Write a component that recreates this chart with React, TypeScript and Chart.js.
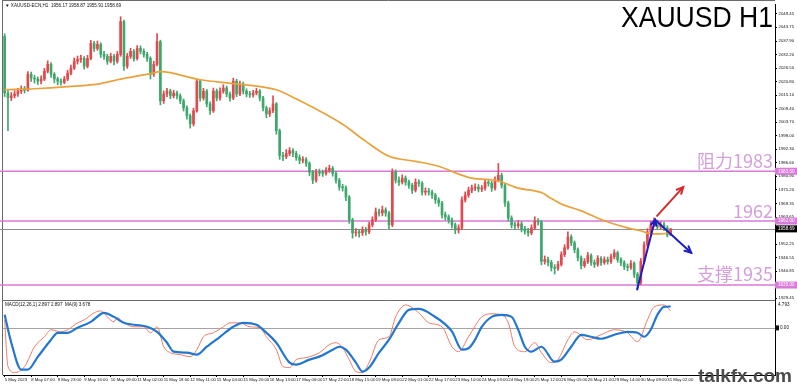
import React, { useEffect, useRef } from 'react';
import { Chart, registerables } from 'chart.js';

Chart.register(...registerables);

// ---------- data ----------
const timeLabels = [
  '5 May 2023', '8 May 07:00', '8 May 23:00', '9 May 16:00', '10 May 09:00', '11 May 02:00',
  '11 May 18:00', '12 May 11:00', '15 May 04:00', '15 May 20:00', '16 May 13:00', '17 May 06:00',
  '17 May 22:00', '18 May 15:00', '19 May 08:00', '22 May 01:00', '22 May 17:00', '23 May 10:00',
  '24 May 03:00', '24 May 19:00', '25 May 12:00', '26 May 05:00', '26 May 21:00', '29 May 14:00',
  '30 May 09:00', '31 May 02:00',
];

const opens = [
  2039.8, 2016.0, 2014.0, 2014.8, 2015.6, 2016.8, 2017.7, 2017.2, 2023.9, 2022.3,
  2021.9, 2021.0, 2021.9, 2025.2, 2028.1, 2023.9, 2021.9, 2021.0, 2020.5, 2021.9,
  2024.4, 2026.5, 2029.4, 2030.2, 2030.6, 2027.3, 2030.6, 2036.9, 2034.8, 2036.5,
  2032.3, 2031.5, 2029.4, 2031.5, 2029.4, 2032.3, 2046.1, 2027.3, 2031.5, 2033.6,
  2030.6, 2034.8, 2033.6, 2032.3, 2030.6, 2023.9, 2028.1, 2037.7, 2012.7, 2015.6,
  2016.8, 2014.8, 2016.0, 2014.8, 2012.7, 2009.7, 2006.4, 2003.0, 2008.5, 2021.0,
  2013.9, 2016.8, 2011.4, 2008.5, 2016.8, 2013.9, 2016.8, 2018.1, 2015.6, 2013.9,
  2021.0, 2015.6, 2019.8, 2016.8, 2015.6, 2015.2, 2016.0, 2016.8, 2013.9, 2009.7,
  2007.2, 2008.5, 2011.4, 2000.1, 1989.7, 1989.2, 1990.5, 1991.7, 1990.5, 1988.8,
  1987.6, 1987.9, 1986.3, 1982.6, 1979.2, 1982.6, 1982.2, 1982.1, 1983.4, 1984.2,
  1982.1, 1979.2, 1976.3, 1976.0, 1972.1, 1962.5, 1957.0, 1957.4, 1957.0, 1958.2,
  1957.4, 1960.4, 1962.5, 1965.8, 1965.4, 1966.7, 1965.4, 1960.4, 1982.6, 1979.2,
  1978.4, 1980.1, 1978.4, 1977.1, 1975.0, 1978.4, 1977.9, 1974.2, 1974.6, 1974.2,
  1972.9, 1970.9, 1969.6, 1964.6, 1963.7, 1962.5, 1960.4, 1958.2, 1959.1, 1970.9,
  1972.9, 1975.0, 1975.9, 1976.3, 1975.5, 1975.9, 1978.4, 1977.9, 1975.9, 1979.2,
  1981.3, 1977.1, 1969.6, 1963.3, 1960.4, 1960.0, 1960.8, 1958.7, 1957.8, 1957.0,
  1959.1, 1962.0, 1961.6, 1945.0, 1945.7, 1944.5, 1942.4, 1942.0, 1943.7, 1947.8,
  1950.7, 1955.3, 1952.8, 1949.9, 1946.5, 1943.2, 1944.9, 1947.4, 1944.5, 1943.7,
  1946.2, 1944.5, 1945.7, 1944.9, 1946.9, 1948.6, 1945.7, 1944.5, 1942.8, 1942.4,
  1944.1, 1939.5, 1936.0, 1945.0, 1951.9, 1957.4, 1960.4, 1961.6, 1959.5, 1960.4,
  1959.1, 1956.17,
];

const highs = [
  2041.0, 2017.0, 2016.2, 2017.0, 2018.0, 2019.0, 2018.8, 2025.0, 2024.8, 2023.5,
  2022.8, 2023.2, 2026.4, 2029.6, 2028.8, 2024.6, 2022.7, 2022.0, 2023.0, 2025.6,
  2027.8, 2030.8, 2031.6, 2032.0, 2031.4, 2031.9, 2038.2, 2037.8, 2037.9, 2037.2,
  2033.6, 2032.4, 2032.8, 2032.3, 2033.5, 2048.2, 2046.8, 2032.7, 2034.9, 2034.4,
  2036.0, 2035.9, 2034.6, 2033.2, 2031.3, 2029.4, 2041.1, 2038.3, 2016.9, 2018.0,
  2017.6, 2017.2, 2016.8, 2015.6, 2013.5, 2010.6, 2007.2, 2009.6, 2021.9, 2021.6,
  2018.0, 2017.5, 2012.3, 2018.1, 2017.7, 2018.2, 2019.5, 2019.0, 2016.4, 2022.3,
  2021.8, 2021.0, 2020.6, 2017.8, 2016.7, 2017.1, 2018.0, 2017.5, 2014.6, 2010.5,
  2009.8, 2014.8, 2012.0, 2000.8, 1991.0, 1992.2, 1993.0, 1992.6, 1991.4, 1989.9,
  1989.2, 1988.8, 1987.0, 1983.4, 1983.8, 1983.9, 1983.5, 1984.6, 1985.6, 1985.0,
  1982.9, 1980.0, 1977.5, 1976.8, 1972.8, 1963.2, 1958.8, 1958.5, 1959.6, 1959.3,
  1961.6, 1963.8, 1967.5, 1967.0, 1968.3, 1967.6, 1966.1, 1984.0, 1983.6, 1980.6,
  1981.5, 1981.0, 1979.3, 1977.9, 1979.8, 1979.4, 1978.6, 1976.0, 1975.8, 1975.1,
  1973.7, 1971.8, 1970.3, 1965.8, 1964.6, 1963.3, 1961.2, 1960.4, 1972.2, 1974.3,
  1976.3, 1977.2, 1977.7, 1977.4, 1977.0, 1979.7, 1979.5, 1978.8, 1980.6, 1986.3,
  1982.2, 1977.9, 1970.4, 1964.2, 1961.6, 1962.2, 1961.7, 1959.8, 1958.9, 1960.4,
  1963.8, 1963.0, 1962.3, 1947.3, 1946.8, 1945.4, 1943.6, 1945.0, 1949.0, 1952.0,
  1957.4, 1956.2, 1953.6, 1950.7, 1947.3, 1946.1, 1948.7, 1948.2, 1945.6, 1947.4,
  1947.0, 1946.9, 1946.8, 1948.1, 1949.9, 1949.3, 1946.6, 1945.3, 1943.9, 1945.3,
  1944.8, 1940.3, 1946.2, 1953.2, 1958.8, 1961.9, 1963.3, 1962.4, 1961.8, 1961.5,
  1960.0, 1958.87,
];

const lows = [
  2014.5, 2000.1, 2012.8, 2013.9, 2014.6, 2015.8, 2016.0, 2016.8, 2020.9, 2020.2,
  2019.6, 2019.8, 2021.2, 2024.5, 2022.6, 2020.3, 2019.4, 2019.3, 2019.9, 2021.2,
  2023.6, 2025.9, 2028.2, 2028.9, 2026.1, 2026.6, 2030.0, 2033.5, 2034.0, 2031.0,
  2030.2, 2028.1, 2028.7, 2027.9, 2028.6, 2031.5, 2025.5, 2026.4, 2030.6, 2029.4,
  2029.9, 2032.5, 2031.1, 2029.3, 2021.9, 2023.0, 2027.4, 2011.0, 2011.6, 2014.5,
  2013.6, 2013.9, 2013.5, 2011.5, 2008.4, 2005.0, 2001.2, 2002.1, 2007.9, 2012.6,
  2013.0, 2010.2, 2007.0, 2007.8, 2012.7, 2013.0, 2015.9, 2014.4, 2012.6, 2013.2,
  2014.5, 2014.9, 2015.6, 2014.4, 2014.1, 2014.3, 2015.2, 2012.7, 2008.4, 2005.6,
  2006.1, 2007.7, 1998.6, 1988.0, 1987.5, 1988.3, 1989.5, 1989.2, 1987.6, 1986.2,
  1986.5, 1985.0, 1981.2, 1977.8, 1978.4, 1981.0, 1980.8, 1981.3, 1982.5, 1980.9,
  1978.0, 1975.0, 1974.6, 1970.6, 1961.0, 1954.8, 1955.6, 1955.2, 1955.9, 1956.0,
  1956.7, 1959.5, 1961.8, 1964.0, 1964.2, 1964.0, 1958.8, 1959.6, 1978.0, 1977.0,
  1977.6, 1977.1, 1975.8, 1973.6, 1974.2, 1976.6, 1972.9, 1973.0, 1972.9, 1971.5,
  1969.4, 1968.2, 1963.2, 1962.4, 1961.1, 1959.0, 1956.6, 1956.9, 1958.5, 1970.0,
  1972.0, 1974.0, 1974.8, 1974.3, 1974.4, 1975.0, 1976.7, 1974.5, 1975.0, 1978.5,
  1975.9, 1968.2, 1962.0, 1959.1, 1958.7, 1959.0, 1957.4, 1956.5, 1955.6, 1956.2,
  1958.4, 1960.3, 1943.5, 1943.8, 1943.1, 1940.9, 1939.6, 1941.2, 1943.0, 1947.0,
  1950.0, 1951.6, 1948.6, 1945.2, 1941.8, 1942.4, 1944.1, 1943.3, 1942.4, 1942.9,
  1943.3, 1943.7, 1943.8, 1944.1, 1946.0, 1944.6, 1943.2, 1941.5, 1941.0, 1941.6,
  1938.2, 1933.2, 1935.2, 1944.3, 1951.0, 1956.5, 1959.5, 1958.3, 1958.6, 1957.9,
  1955.3, 1955.91,
];

const closes = [
  2016.0, 2014.0, 2014.8, 2015.6, 2016.8, 2017.7, 2017.2, 2023.9, 2022.3, 2021.9,
  2021.0, 2021.9, 2025.2, 2028.1, 2023.9, 2021.9, 2021.0, 2020.5, 2021.9, 2024.4,
  2026.5, 2029.4, 2030.2, 2030.6, 2027.3, 2030.6, 2036.9, 2034.8, 2036.5, 2032.3,
  2031.5, 2029.4, 2031.5, 2029.4, 2032.3, 2046.1, 2027.3, 2031.5, 2033.6, 2030.6,
  2034.8, 2033.6, 2032.3, 2030.6, 2023.9, 2028.1, 2037.7, 2012.7, 2015.6, 2016.8,
  2014.8, 2016.0, 2014.8, 2012.7, 2009.7, 2006.4, 2003.0, 2008.5, 2021.0, 2013.9,
  2016.8, 2011.4, 2008.5, 2016.8, 2013.9, 2016.8, 2018.1, 2015.6, 2013.9, 2021.0,
  2015.6, 2019.8, 2016.8, 2015.6, 2015.2, 2016.0, 2016.8, 2013.9, 2009.7, 2007.2,
  2008.5, 2011.4, 2000.1, 1989.7, 1989.2, 1990.5, 1991.7, 1990.5, 1988.8, 1987.6,
  1987.9, 1986.3, 1982.6, 1979.2, 1982.6, 1982.2, 1982.1, 1983.4, 1984.2, 1982.1,
  1979.2, 1976.3, 1976.0, 1972.1, 1962.5, 1957.0, 1957.4, 1957.0, 1958.2, 1957.4,
  1960.4, 1962.5, 1965.8, 1965.4, 1966.7, 1965.4, 1960.4, 1982.6, 1979.2, 1978.4,
  1980.1, 1978.4, 1977.1, 1975.0, 1978.4, 1977.9, 1974.2, 1974.6, 1974.2, 1972.9,
  1970.9, 1969.6, 1964.6, 1963.7, 1962.5, 1960.4, 1958.2, 1959.1, 1970.9, 1972.9,
  1975.0, 1975.9, 1976.3, 1975.5, 1975.9, 1978.4, 1977.9, 1975.9, 1979.2, 1981.3,
  1977.1, 1969.6, 1963.3, 1960.4, 1960.0, 1960.8, 1958.7, 1957.8, 1957.0, 1959.1,
  1962.0, 1961.6, 1945.0, 1945.7, 1944.5, 1942.4, 1942.0, 1943.7, 1947.8, 1950.7,
  1955.3, 1952.8, 1949.9, 1946.5, 1943.2, 1944.9, 1947.4, 1944.5, 1943.7, 1946.2,
  1944.5, 1945.7, 1944.9, 1946.9, 1948.6, 1945.7, 1944.5, 1942.8, 1942.4, 1944.1,
  1939.5, 1936.0, 1945.0, 1951.9, 1957.4, 1960.4, 1961.6, 1959.5, 1960.4, 1959.1,
  1956.17, 1958.69,
];

// moving average read at key bars
const maIndex = [0, 9, 19, 29, 34, 39, 44, 47, 59, 69, 79, 82, 89, 102, 109, 116, 124, 131, 137, 141, 149, 155, 162, 165, 168, 174, 181, 188, 192, 195, 198, 201];
const maValue = [2017.4, 2017.8, 2018.7, 2020.0, 2021.6, 2022.9, 2024.2, 2025.0, 2021.6, 2020.0, 2018.3, 2017.4, 2012.8, 2002.8, 1995.6, 1989.3, 1987.2, 1985.1, 1981.8, 1980.1, 1978.9, 1975.9, 1974.0, 1971.5, 1969.2, 1966.3, 1962.1, 1959.1, 1957.9, 1956.6, 1956.6, 1957.0];

// MACD main (thin red) read at key bars
const macdIndex = [0, 1, 3, 6, 9, 12, 14, 17, 19, 22, 24, 27, 29, 31, 33, 34, 36, 39, 42, 44, 46, 48, 50, 53, 56, 58, 60, 63, 66, 68, 71, 74, 77, 79, 82, 84, 86, 88, 91, 95, 98, 100, 102, 104, 106, 108, 110, 113, 116, 118, 121, 125, 128, 132, 135, 137, 140, 144, 147, 150, 152, 154, 157, 160, 162, 165, 167, 170, 172, 176, 180, 184, 188, 191, 194, 196, 199, 201];
const macdValue = [1.38, -6.64, -7.66, -6.64, -3.23, -1.52, -0.32, -0.67, -0.32, 0.87, 1.38, 2.58, 2.92, 1.89, 1.04, 1.72, 0.87, 0.19, 0.19, -0.84, 0.19, -3.23, -4.25, -4.59, -4.93, -3.74, -1.52, -0.84, 0.19, 0.87, 0.87, 0.19, 0.02, -1.52, -3.74, -6.64, -6.81, -5.44, -5.10, -4.25, -2.88, -2.54, -3.40, -5.44, -7.49, -7.66, -5.96, -2.03, -1.52, 1.89, 3.94, 2.58, 0.87, 0.19, -3.23, -4.08, -1.52, 1.89, 2.41, 2.24, 0.87, -3.23, -4.08, -2.54, -4.25, -5.96, -5.44, -2.03, -0.67, -2.03, -1.18, -0.32, -0.84, -2.37, 1.38, 3.60, 3.94, 2.897];

// MACD signal MA(9) (thick blue) read at key bars
const signalIndex = [0, 2, 5, 7, 10, 14, 16, 19, 22, 26, 30, 33, 36, 43, 46, 49, 51, 55, 58, 61, 65, 69, 72, 76, 79, 82, 86, 88, 92, 95, 99, 101, 103, 106, 108, 110, 113, 116, 119, 122, 125, 129, 135, 138, 140, 142, 144, 147, 150, 153, 155, 157, 159, 162, 166, 168, 171, 174, 177, 180, 184, 188, 191, 193, 195, 197, 199, 201];
const signalValue = [2.24, -2.54, -7.15, -7.15, -4.97, -2.03, -0.84, -0.84, 0.02, 1.04, 2.58, 1.89, 0.87, 0.19, -0.67, -2.54, -4.08, -4.25, -4.59, -3.23, -1.52, 0.19, 0.87, 0.53, -0.84, -2.54, -5.96, -6.30, -5.44, -4.93, -3.74, -3.23, -3.74, -5.96, -7.49, -6.81, -4.25, -2.03, 0.87, 3.09, 3.26, 2.24, -0.6, -3.74, -3.5, -2.0, 0.19, 1.89, 2.24, 1.89, -0.32, -3.23, -4.08, -3.23, -5.79, -5.44, -3.23, -1.18, -1.52, -1.86, -1.18, -0.67, -0.84, -1.52, -0.32, 2.24, 3.60, 3.678];

const priceTicks = [2049.45, 2043.75, 2037.90, 2032.20, 2026.50, 2020.80, 2015.10, 2009.40, 2003.70, 1998.00, 1992.30, 1986.60, 1980.90, 1975.20, 1969.35, 1963.65, 1957.95, 1952.25, 1946.55, 1940.85, 1935.15, 1929.45];

const resistanceLevel = 1983;
const pivotLevel = 1962;
const supportLevel = 1935;
const lastPrice = 1958.69;
const macdTopValue = 4.793;

// annotation arrows in (bar index, price)
const redArrow = [[196.9, 1964.2], [204.8, 1976.3]];
const blueUpArrow = [[190.9, 1933.1], [196.3, 1962.5]];
const blueDownArrow = [[196.3, 1962.5], [207.2, 1948.6]];

const headerText = '\u25BC XAUUSD-ECN,H1  1956.17 1958.87 1955.91 1958.69';
const macdText = 'MACD(12,26,1) 2.897 2.897  MA(9) 3.678';
const titleText = 'XAUUSD H1';
const watermark = 'talkfx.com';

// ---------- layout / style ----------
const SLOTS = 233;
const LABEL_STEP = 8;
const UP = '#e4474c';
const DOWN = '#3ea86c';
const LEVEL = 'rgb(216,122,216)';
const LEVEL_TEXT = 'rgb(212,160,218)';
const SANS = '"Liberation Sans", Arial, sans-serif';

function sparse(idx: number[], vals: number[]) {
  const a: (number | null)[] = new Array(closes.length).fill(null);
  idx.forEach((k, j) => { a[k] = vals[j]; });
  return a;
}

function drawArrow(ctx: CanvasRenderingContext2D, x1: number, y1: number, x2: number, y2: number, color: string, w: number, head: number) {
  ctx.strokeStyle = color;
  ctx.lineWidth = w;
  ctx.lineCap = 'round';
  ctx.beginPath();
  ctx.moveTo(x1, y1);
  ctx.lineTo(x2, y2);
  ctx.stroke();
  const a = Math.atan2(y2 - y1, x2 - x1);
  ctx.beginPath();
  ctx.moveTo(x2 - head * Math.cos(a - 0.45), y2 - head * Math.sin(a - 0.45));
  ctx.lineTo(x2, y2);
  ctx.lineTo(x2 - head * Math.cos(a + 0.45), y2 - head * Math.sin(a + 0.45));
  ctx.stroke();
}

const overlay = {
  id: 'overlay',
  beforeDatasetsDraw(chart: any) {
    const { ctx } = chart;
    const xs = chart.scales.x, ys = chart.scales.y, y2 = chart.scales.y2;
    ctx.save();
    ctx.strokeStyle = '#6a6a6a';
    ctx.lineWidth = 1;
    ctx.beginPath();
    ctx.moveTo(2.5, 0); ctx.lineTo(2.5, xs.top);
    ctx.moveTo(2, 0.5); ctx.lineTo(xs.right, 0.5);
    const sep = Math.round(y2.top) + 0.5;
    ctx.moveTo(2, sep); ctx.lineTo(xs.right, sep);
    ctx.stroke();

    const z = Math.round(y2.getPixelForValue(0)) + 0.5;
    ctx.strokeStyle = '#a4a4a4';
    ctx.beginPath(); ctx.moveTo(xs.left, z); ctx.lineTo(xs.right, z); ctx.stroke();

    const lp = Math.round(ys.getPixelForValue(lastPrice)) + 0.5;
    ctx.strokeStyle = '#8c8c8c';
    ctx.beginPath(); ctx.moveTo(0, lp); ctx.lineTo(xs.right, lp); ctx.stroke();

    ctx.strokeStyle = LEVEL;
    ctx.lineWidth = 1.6;
    for (const v of [resistanceLevel, pivotLevel, supportLevel]) {
      const yy = ys.getPixelForValue(v);
      ctx.beginPath(); ctx.moveTo(0, yy); ctx.lineTo(xs.right, yy); ctx.stroke();
    }
    ctx.restore();
  },
  afterDatasetsDraw(chart: any) {
    const { ctx } = chart;
    const xs = chart.scales.x, ys = chart.scales.y;
    const P = (p: number[]) => [xs.getPixelForValue(p[0]), ys.getPixelForValue(p[1])];
    ctx.save();
    let [a, b] = [P(redArrow[0]), P(redArrow[1])];
    drawArrow(ctx, a[0], a[1], b[0], b[1], '#d22b2b', 2, 7);
    [a, b] = [P(blueUpArrow[0]), P(blueUpArrow[1])];
    drawArrow(ctx, a[0], a[1], b[0], b[1], '#1c1cc8', 2, 6);
    [a, b] = [P(blueDownArrow[0]), P(blueDownArrow[1])];
    drawArrow(ctx, a[0], a[1], b[0], b[1], '#1c1cc8', 2, 7);
    ctx.restore();
  },
  afterDraw(chart: any) {
    const { ctx } = chart;
    const xs = chart.scales.x, ys = chart.scales.y, y2 = chart.scales.y2;
    const R = xs.right;
    ctx.save();
    // title
    ctx.fillStyle = '#000';
    ctx.font = `30px ${SANS}`;
    ctx.textAlign = 'right';
    ctx.textBaseline = 'alphabetic';
    ctx.fillText(titleText, R - 2, 27, 152);

    // level captions
    ctx.fillStyle = LEVEL_TEXT;
    ctx.font = '18px "Noto Sans CJK SC", sans-serif';
    ctx.fillText(`阻力${resistanceLevel}`, R - 2, ys.getPixelForValue(resistanceLevel) - 3);
    ctx.fillText(`${pivotLevel}`, R - 2, ys.getPixelForValue(pivotLevel) - 3);
    ctx.fillText(`支撑${supportLevel}`, R - 2, ys.getPixelForValue(supportLevel) - 4);

    // small header texts
    ctx.textAlign = 'left';
    ctx.fillStyle = '#111';
    ctx.font = `4.6px ${SANS}`;
    ctx.fillText(headerText, 5, 7);
    ctx.fillText(macdText, 5, y2.top + 6.5);

    // axis boxes
    ctx.textBaseline = 'middle';
    const box = (v: number, fill: string) => {
      const yy = ys.getPixelForValue(v);
      ctx.fillStyle = fill;
      ctx.fillRect(R, yy - 3.5, 22, 7);
      ctx.fillStyle = '#fff';
      ctx.fillText(v.toFixed(2), R + 3, yy);
    };
    box(resistanceLevel, LEVEL);
    box(pivotLevel, LEVEL);
    box(supportLevel, LEVEL);
    box(lastPrice, '#000');

    // macd axis texts
    ctx.fillStyle = '#111';
    ctx.fillText(macdTopValue.toFixed(3), R + 3, y2.top + 5);
    const z = y2.getPixelForValue(0);
    ctx.fillRect(R, z - 2.5, 4, 5);
    ctx.fillText('0.00', R + 5, z);

    // watermark
    ctx.textBaseline = 'alphabetic';
    ctx.font = `bold 19px ${SANS}`;
    ctx.fillStyle = '#4b4b4b';
    ctx.fillText(watermark, 698, 382);
    ctx.restore();
  },
};

export default function App() {
  const ref = useRef<HTMLCanvasElement>(null);

  useEffect(() => {
    const canvas = ref.current;
    if (!canvas) return;
    const categories = Array.from({ length: SLOTS }, (_, i) => String(i));
    const colors = closes.map((c, i) => (c >= opens[i] ? UP : DOWN));

    const chart = new Chart(canvas, {
      type: 'bar',
      data: {
        labels: categories,
        datasets: [
          {
            type: 'line',
            data: sparse(maIndex, maValue),
            yAxisID: 'y',
            borderColor: '#e9a23b',
            borderWidth: 1.7,
            pointRadius: 0,
            spanGaps: true,
            cubicInterpolationMode: 'monotone',
            order: 0,
          } as any,
          {
            type: 'line',
            data: sparse(signalIndex, signalValue),
            yAxisID: 'y2',
            borderColor: '#2477cf',
            borderWidth: 2.2,
            pointRadius: 0,
            spanGaps: true,
            cubicInterpolationMode: 'monotone',
            order: 0,
          } as any,
          {
            type: 'line',
            data: sparse(macdIndex, macdValue),
            yAxisID: 'y2',
            borderColor: '#f07a68',
            borderWidth: 1,
            pointRadius: 0,
            spanGaps: true,
            cubicInterpolationMode: 'monotone',
            order: 1,
          } as any,
          {
            type: 'bar',
            data: lows.map((l, i) => [l, highs[i]]),
            yAxisID: 'y',
            backgroundColor: colors,
            barThickness: 1,
            grouped: false,
            borderWidth: 0,
            order: 3,
          } as any,
          {
            type: 'bar',
            data: opens.map((o, i) => [o, closes[i]]),
            yAxisID: 'y',
            backgroundColor: colors,
            barThickness: 2,
            grouped: false,
            borderWidth: 0,
            minBarLength: 1,
            order: 2,
          } as any,
        ],
      },
      options: {
        animation: false,
        responsive: false,
        devicePixelRatio: 1,
        events: [],
        layout: { padding: { left: 3, top: 2, right: 0, bottom: 0 } },
        plugins: { legend: { display: false }, tooltip: { enabled: false } },
        scales: {
          x: {
            type: 'category',
            offset: true,
            afterFit: (s: any) => { s.height = 12; },
            afterBuildTicks: (axis: any) => {
              axis.ticks = axis.ticks.filter((t: any) => t.value % LABEL_STEP === 0 && t.value / LABEL_STEP < timeLabels.length);
            },
            ticks: {
              autoSkip: false,
              maxRotation: 0,
              minRotation: 0,
              align: 'start',
              padding: 0.5,
              color: '#111',
              font: { size: 4.3, family: SANS },
              callback: (v: any) => timeLabels[Math.round(Number(v) / LABEL_STEP)] ?? '',
            },
            grid: { display: true, drawOnChartArea: false, drawTicks: true, tickLength: 2, color: '#000', offset: false },
            border: { display: true, color: '#000' },
          },
          y: {
            type: 'linear',
            position: 'right',
            stack: 'panes',
            stackWeight: 297.5,
            min: 1928.72,
            max: 2053.52,
            afterFit: (s: any) => { s.width = 22; },
            afterBuildTicks: (axis: any) => { axis.ticks = priceTicks.map((v) => ({ value: v })); },
            ticks: {
              autoSkip: false,
              padding: 1.5,
              color: '#111',
              font: { size: 4.3, family: SANS },
              callback: (v: any) => Number(v).toFixed(2),
            },
            grid: { display: true, drawOnChartArea: false, drawTicks: true, tickLength: 2, color: '#000' },
            border: { display: true, color: '#000' },
          },
          y2: {
            type: 'linear',
            position: 'right',
            stack: 'panes',
            stackWeight: 75.5,
            min: -8.08,
            max: 4.8,
            afterFit: (s: any) => { s.width = 22; },
            ticks: { display: false },
            grid: { display: true, drawOnChartArea: false, drawTicks: false },
            border: { display: true, color: '#000' },
          },
        },
      } as any,
      plugins: [overlay],
    });
    return () => chart.destroy();
  }, []);

  return (
    <div style={{ position: 'fixed', left: 0, top: 0, width: 797, height: 387, background: '#fff' }}>
      <canvas ref={ref} width={797} height={387} style={{ display: 'block', width: 797, height: 387 }} />
    </div>
  );
}
